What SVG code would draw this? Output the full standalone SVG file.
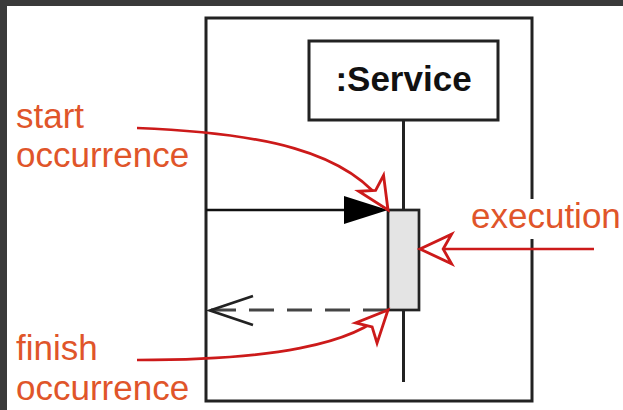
<svg xmlns="http://www.w3.org/2000/svg" width="623" height="410" viewBox="0 0 623 410">
<style>
.ln{fill:none;stroke:#222;stroke-width:3}
.lbl{font-family:"Liberation Sans",Arial,sans-serif;font-size:35px;fill:#e0552a}
.red{fill:none;stroke:#cc1a1a;stroke-width:2.7}
.title{font-family:"Liberation Sans",Arial,sans-serif;font-size:35px;font-weight:bold;fill:#111}
</style>
<defs>
<marker id="hollow" markerUnits="userSpaceOnUse" markerWidth="40" markerHeight="40" viewBox="-34 -18 38 36" refX="0" refY="0" orient="auto">
<path d="M0,0 L-30,-14 L-22,0 L-30,14 Z" fill="#fff" stroke="#cc1a1a" stroke-width="2.7" stroke-linejoin="miter"/>
</marker>
</defs>
<rect x="0" y="0" width="623" height="410" fill="#3a3a3a"/>
<rect x="7" y="6" width="616" height="404" fill="#fff"/>
<g id="frame">
<rect class="ln" x="206" y="18" width="326" height="383"/>
</g>
<g id="service">
<rect class="ln" x="309" y="41" width="189" height="79" fill="#fff"/>
<text class="title" x="403.5" y="91" text-anchor="middle">:Service</text>
</g>
<g id="lifeline">
<line class="ln" x1="403.5" y1="120" x2="403.5" y2="210"/>
<line class="ln" x1="403.5" y1="310" x2="403.5" y2="382"/>
</g>
<g id="execution-box">
<rect x="388" y="210" width="31" height="100" fill="#e4e4e4" stroke="#222" stroke-width="2.7"/>
</g>
<g id="connectors">
<line x1="206" y1="210" x2="346" y2="210" stroke="#111" stroke-width="2.7"/>
<polygon points="344,196 388,210 344,224" fill="#000"/>
<line x1="388" y1="310" x2="210" y2="310" stroke="#444" stroke-width="3" stroke-dasharray="25 13"/>
<polyline points="253,296 210,310.5 253,325" fill="none" stroke="#222" stroke-width="2.7"/>
<path class="red" d="M137,128 C260,133 350,150 388,210" marker-end="url(#hollow)"/>
<path class="red" d="M137,360 C270,360 355,345 388,310" marker-end="url(#hollow)"/>
<path class="red" d="M594,249 L420,249" marker-end="url(#hollow)"/>
</g>
<g id="labels">
<text class="lbl" x="16" y="128">start</text>
<text class="lbl" x="16" y="167">occurrence</text>
<text class="lbl" x="16" y="360">finish</text>
<text class="lbl" x="16" y="400">occurrence</text>
<rect x="468" y="199" width="155" height="40" fill="#fff"/>
<text class="lbl" x="471" y="228">execution</text>
</g>
</svg>
